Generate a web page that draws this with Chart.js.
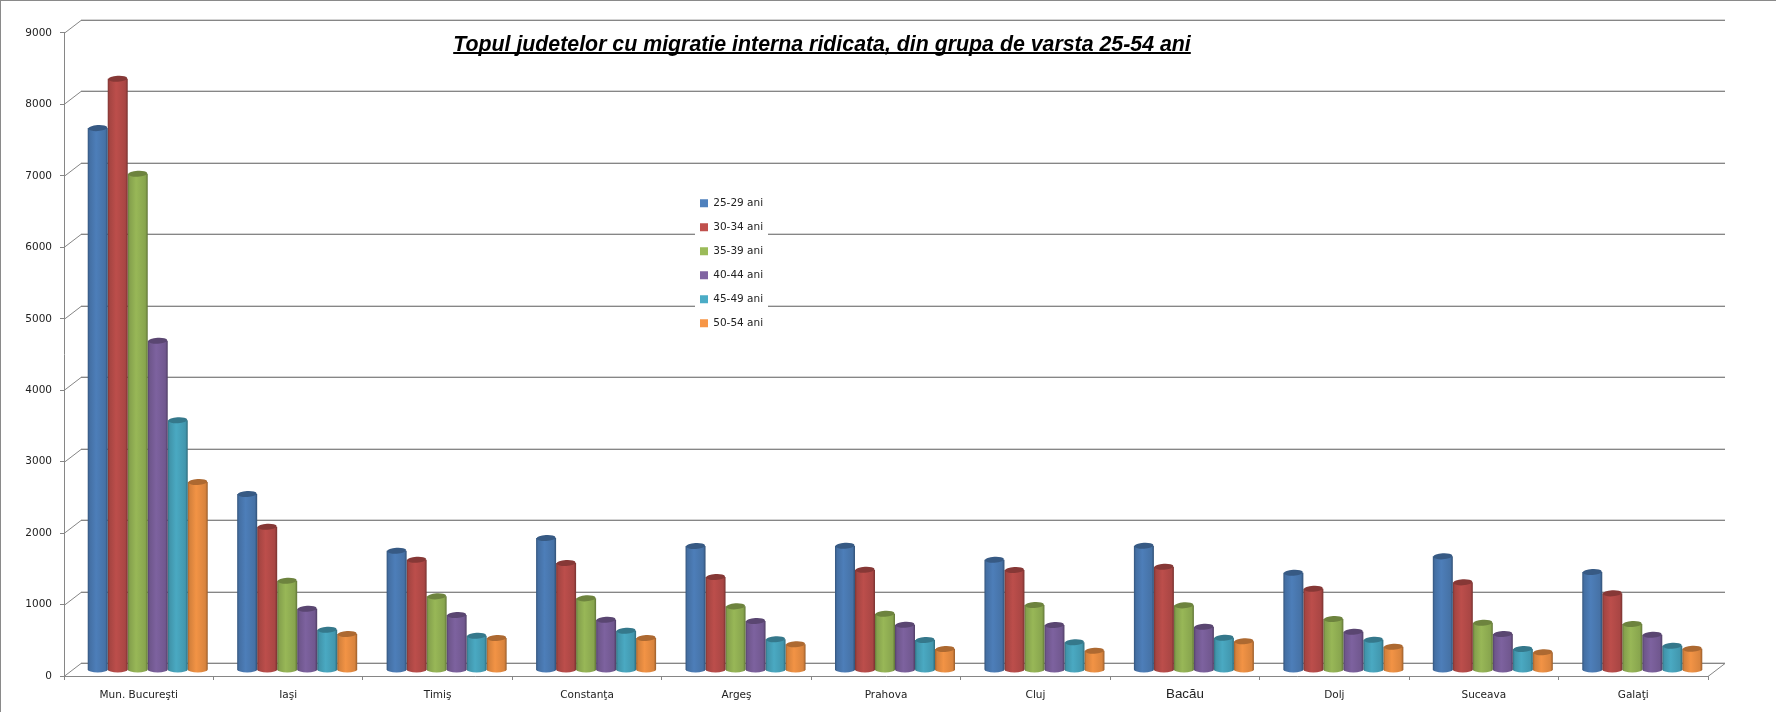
<!DOCTYPE html>
<html>
<head>
<meta charset="utf-8">
<title>Topul judetelor</title>
<script src="https://cdn.jsdelivr.net/npm/chart.js@4"></script>
<style>
    html, body { margin: 0; padding: 0; background: #fff; }
    canvas { display: block; }
</style>
</head>
<body>
<canvas id="chart" width="1776" height="712"></canvas>
<script>
const titleText = "Topul judetelor cu migratie interna ridicata, din grupa de varsta 25-54 ani";
const counties = ["Mun. Bucureşti", "Iaşi", "Timiş", "Constanţa", "Argeş", "Prahova", "Cluj", "Bacău", "Dolj", "Suceava", "Galaţi"];
const seriesLabels = ["25-29 ani", "30-34 ani", "35-39 ani", "40-44 ani", "45-49 ani", "50-54 ani"];
const seriesColors = ["#4F81BD", "#C0504D", "#9BBB59", "#8064A2", "#4BACC6", "#F79646"];

const age25 = [7585, 2463, 1670, 1847, 1735, 1740, 1544, 1740, 1362, 1591, 1372];
const age30 = [8276, 2006, 1544, 1498, 1302, 1404, 1400, 1446, 1138, 1227, 1073];
const age35 = [6946, 1250, 1031, 1003, 891, 788, 910, 905, 714, 662, 644];
const age40 = [4609, 858, 770, 704, 686, 634, 630, 606, 536, 504, 494];
const age45 = [3495, 564, 480, 550, 430, 420, 388, 452, 424, 294, 340];
const age50 = [2631, 504, 448, 448, 360, 294, 270, 402, 326, 248, 298];
const allSeries = [age25, age30, age35, age40, age45, age50];

const axisGray = "#868686";
const tickFont = { family: "'DejaVu Sans'", size: 10.5 };

function shade(hex, k) {
    let n = parseInt(hex.slice(1), 16);
    let r = Math.round((n >> 16) * k), g = Math.round(((n >> 8) & 255) * k), b = Math.round((n & 255) * k);
    return `rgb(${r},${g},${b})`;
}

// cylinder look for the bars, position still comes from the bar controller
class CylinderBar extends Chart.BarElement {
    static id = "cylinderBar";
    draw(ctx) {
        const { x, y, base, width } = this.getProps(["x", "y", "base", "width"]);
        const color = this.options.backgroundColor;
        const rx = width / 2, ry = 3;
        const grad = ctx.createLinearGradient(x - rx, 0, x + rx, 0);
        grad.addColorStop(0, shade(color, 0.66));
        grad.addColorStop(0.1, shade(color, 0.86));
        grad.addColorStop(0.42, shade(color, 0.98));
        grad.addColorStop(0.88, shade(color, 0.88));
        grad.addColorStop(1, shade(color, 0.62));

        ctx.save();
        ctx.fillStyle = grad;
        ctx.beginPath();
        ctx.moveTo(x - rx, y);
        ctx.lineTo(x - rx, base);
        ctx.ellipse(x, base, rx, ry, 0, Math.PI, 0, true);
        ctx.lineTo(x + rx, y);
        ctx.closePath();
        ctx.fill();

        ctx.fillStyle = shade(color, 0.7);
        ctx.beginPath();
        ctx.ellipse(x, y, rx - 0.5, ry, -0.06, 0, Math.PI * 2);
        ctx.fill();
        ctx.restore();
    }
}

class CylinderController extends Chart.BarController {
    static id = "cylinder";
    static defaults = { ...Chart.BarController.defaults, dataElementType: "cylinderBar" };
}

Chart.register(CylinderBar, CylinderController);

const depthX = 17, depthY = -13;
const barShiftX = 9, barShiftY = -6;

const excelLook = {
    id: "excelLook",
    afterLayout(chart) {
        // title and legend float over the plot in the original
        let title = chart.titleBlock;
        title.left = 422; title.right = 1222; title.top = 32; title.bottom = 56;
        let legend = chart.legend;
        legend.left = 686.5; legend.right = 790; legend.top = 184.5; legend.bottom = 400;
        // Bacău has a bigger font and sits a little higher than the others
        let items = chart.scales.x.getLabelItems(chart.chartArea);
        items[7].options.translation[1] -= 3;
    },
    beforeDraw(chart) {
        const ctx = chart.ctx, ys = chart.scales.y, area = chart.chartArea;
        ctx.save();
        ctx.fillStyle = "#fff";
        ctx.fillRect(0, 0, chart.width, chart.height);
        ctx.fillStyle = "#8a8a8a";
        ctx.fillRect(0, 0, chart.width, 1);
        ctx.fillRect(0, 0, 1, chart.height);

        ys.ticks.forEach(t => {
            let y = Math.round(ys.getPixelForValue(t.value));
            ctx.lineWidth = 1;
            ctx.strokeStyle = "#d4d4d4";
            ctx.beginPath();
            ctx.moveTo(area.left + depthX, y + depthY - 0.5);
            ctx.lineTo(area.right + depthX, y + depthY - 0.5);
            ctx.stroke();
            ctx.strokeStyle = axisGray;
            ctx.beginPath();
            ctx.moveTo(area.left, y + 0.5);
            ctx.lineTo(area.left + depthX, y + depthY + 0.5);
            ctx.lineTo(area.right + depthX, y + depthY + 0.5);
            ctx.stroke();
        });
        // floor edge on the right
        ctx.strokeStyle = axisGray;
        ctx.beginPath();
        ctx.moveTo(area.right, area.bottom + 0.5);
        ctx.lineTo(area.right + depthX, area.bottom + depthY + 0.5);
        ctx.stroke();

        // legend sits on a white box
        ctx.fillStyle = "#fff";
        ctx.fillRect(695, 190, 73, 145);
        ctx.restore();
    },
    beforeDatasetsDraw(chart) {
        chart.ctx.save();
        chart.ctx.translate(barShiftX, barShiftY);
    },
    afterDatasetsDraw(chart) {
        chart.ctx.restore();
    },
    afterDraw(chart) {
        // canvas text has no underline
        const ctx = chart.ctx;
        ctx.save();
        ctx.font = "italic bold 21.33px 'Liberation Sans'";
        let w = ctx.measureText(titleText).width;
        ctx.fillStyle = "#000";
        ctx.fillRect(822 - w / 2, 52, w, 2);
        ctx.restore();
    }
};

new Chart(document.getElementById("chart"), {
    type: "cylinder",
    data: {
        labels: counties,
        datasets: allSeries.map((values, i) => ({
            label: seriesLabels[i],
            data: values,
            backgroundColor: seriesColors[i],
            borderWidth: 0,
            clip: false,
            categoryPercentage: 0.803,
            barPercentage: 1
        }))
    },
    options: {
        responsive: false,
        animation: false,
        layout: { padding: { top: 7.4, right: 68, left: 0, bottom: 0 } },
        plugins: {
            title: {
                display: true,
                text: titleText,
                color: "#000",
                padding: 0,
                font: { family: "'Liberation Sans'", size: 21.33, style: "italic", weight: "bold" }
            },
            legend: {
                position: "chartArea",
                align: "start",
                labels: {
                    boxWidth: 8,
                    boxHeight: 8,
                    padding: 13.5,
                    color: "#222",
                    font: tickFont
                }
            },
            tooltip: { enabled: false }
        },
        scales: {
            x: {
                afterFit(scale) { scale.height = 36; },
                border: { color: axisGray },
                grid: { drawOnChartArea: false, tickLength: 4, tickColor: axisGray, offset: true },
                ticks: {
                    autoSkip: false,
                    maxRotation: 0,
                    padding: 9,
                    color: "#222",
                    font: ctx => ctx.index === 7 ? { family: "'Liberation Sans'", size: 13.33 } : tickFont
                }
            },
            y: {
                min: 0,
                max: 9000,
                afterFit(scale) { scale.width = 64; },
                border: { color: axisGray },
                grid: { drawOnChartArea: false, tickLength: 4, tickColor: axisGray },
                ticks: {
                    stepSize: 1000,
                    padding: 8,
                    color: "#222",
                    font: tickFont,
                    callback: v => String(v)
                }
            }
        }
    },
    plugins: [excelLook]
});
</script>
</body>
</html>
